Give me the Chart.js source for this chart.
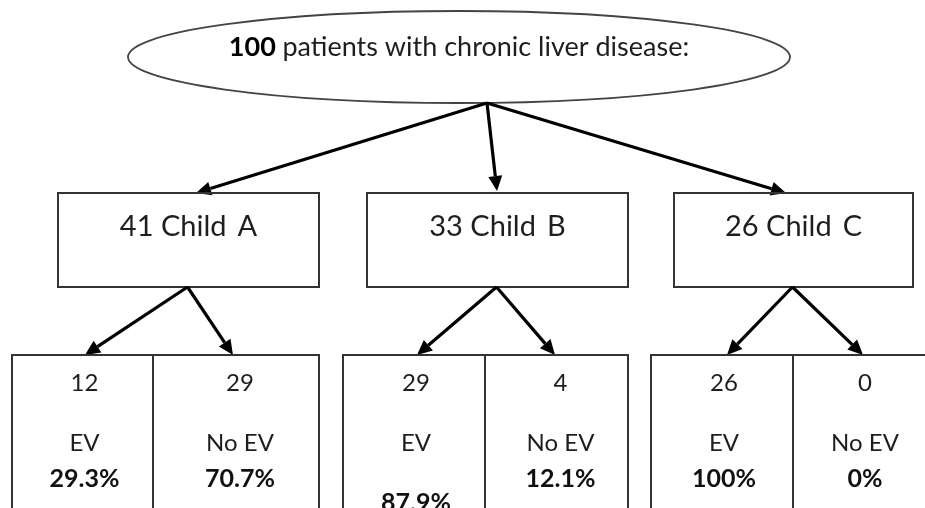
<!DOCTYPE html>
<html>
<head>
<meta charset="utf-8">
<script src="https://cdn.jsdelivr.net/npm/chart.js@4.4.0/dist/chart.umd.min.js"></script>
<style>
  html, body { margin: 0; padding: 0; background: #fff; }
  canvas { display: block; }
</style>
</head>
<body>
<canvas id="tree" width="925" height="508"></canvas>
<script>
// Datos del diagrama
const totalPatients = 100;
const rootText = 'patients with chronic liver disease:';
const childClasses = ['Child A', 'Child B', 'Child C'];
const childCounts = [41, 33, 26];
const evCounts = [12, 29, 26];
const noEvCounts = [29, 4, 0];
const evPercents = ['29.3%', '87.9%', '100%'];
const noEvPercents = ['70.7%', '12.1%', '0%'];
const outcomeLabels = ['EV', 'No EV'];

// Posiciones (en coordenadas de la imagen 925x508)
const rootShape = { cx: 459, cy: 57, rx: 331, ry: 46, textY: 47 };
const rootArrowFrom = [487, 103];
const midBoxes = [[58, 319], [367, 628], [674, 913]];
const midTop = 193, midBottom = 287, midTextY = 227;
const midArrowTips = [[196, 193], [497, 191], [786, 193]];
const lowBoxes = [[12, 153, 319], [343, 485, 628], [651, 793, 940]];
const lowTop = 355, lowBottom = 540;
const lowArrowTips = [[[85, 355], [233, 355]], [[417, 355], [555, 355]], [[727, 355], [863, 355]]];
const rowY = { count: 383, label: 443, pct: 479 };
const pctShift = [[0, 0], [24, 0], [0, 0]];

const fontFamily = 'Lato, "Open Sans", sans-serif';
const textColor = '#1e1e1e';

function arrow(ctx, x0, y0, x1, y1) {
    const a = Math.atan2(y1 - y0, x1 - x0);
    const len = 15, half = 7;
    const bx = x1 - len * Math.cos(a), by = y1 - len * Math.sin(a);
    ctx.strokeStyle = '#000';
    ctx.lineWidth = 3.2;
    ctx.beginPath();
    ctx.moveTo(x0, y0);
    ctx.lineTo(bx, by);
    ctx.stroke();
    ctx.fillStyle = '#000';
    ctx.beginPath();
    ctx.moveTo(x1, y1);
    ctx.lineTo(bx + half * Math.sin(a), by - half * Math.cos(a));
    ctx.lineTo(bx - half * Math.sin(a), by + half * Math.cos(a));
    ctx.closePath();
    ctx.fill();
}

const treePlugin = {
    id: 'tree',
    afterDraw(chart) {
        const ctx = chart.ctx;
        const sx = v => chart.scales.x.getPixelForValue(v);
        const sy = v => chart.scales.y.getPixelForValue(v);
        ctx.save();

        // Elipse principal
        ctx.strokeStyle = '#444';
        ctx.lineWidth = 1.8;
        ctx.beginPath();
        ctx.ellipse(sx(rootShape.cx), sy(rootShape.cy), rootShape.rx, rootShape.ry, 0, 0, Math.PI * 2);
        ctx.stroke();

        ctx.textBaseline = 'middle';
        ctx.textAlign = 'left';
        const boldPart = String(totalPatients);
        ctx.font = 'bold 27px ' + fontFamily;
        const wb = ctx.measureText(boldPart + ' ').width;
        ctx.font = '27px ' + fontFamily;
        const wr = ctx.measureText(rootText).width;
        let x = sx(rootShape.cx) - (wb + wr) / 2;
        ctx.fillStyle = '#000';
        ctx.font = 'bold 27px ' + fontFamily;
        ctx.fillText(boldPart, x, sy(rootShape.textY));
        ctx.fillStyle = textColor;
        ctx.font = '27px ' + fontFamily;
        ctx.fillText(rootText, x + wb, sy(rootShape.textY));

        // Flechas hacia Child A/B/C
        midArrowTips.forEach(t => arrow(ctx, sx(rootArrowFrom[0]), sy(rootArrowFrom[1]), sx(t[0]), sy(t[1])));

        // Cajas Child
        ctx.lineWidth = 2;
        ctx.strokeStyle = '#333';
        ctx.textAlign = 'center';
        midBoxes.forEach((b, i) => {
            ctx.strokeRect(sx(b[0]), sy(midTop), sx(b[1]) - sx(b[0]), sy(midBottom) - sy(midTop));
            ctx.fillStyle = textColor;
            ctx.font = '29px ' + fontFamily;
            ctx.fillText(childCounts[i] + ' ' + childClasses[i].replace(' ', '\u2009 '), sx((b[0] + b[1]) / 2), sy(midTextY));
        });

        // Flechas hacia EV / No EV
        midBoxes.forEach((b, i) => {
            const ox = sx((b[0] + b[1]) / 2) - 1, oy = sy(midBottom);
            lowArrowTips[i].forEach(t => arrow(ctx, ox, oy, sx(t[0]), sy(t[1])));
        });

        // Cajas inferiores
        lowBoxes.forEach((b, i) => {
            ctx.strokeStyle = '#333';
            ctx.lineWidth = 2;
            ctx.strokeRect(sx(b[0]), sy(lowTop), sx(b[2]) - sx(b[0]), sy(lowBottom) - sy(lowTop));
            ctx.beginPath();
            ctx.moveTo(sx(b[1]), sy(lowTop));
            ctx.lineTo(sx(b[1]), sy(lowBottom));
            ctx.stroke();
            const cells = [
                [(b[0] + b[1]) / 2 + 2, evCounts[i], outcomeLabels[0], evPercents[i], pctShift[i][0]],
                [(b[1] + b[2]) / 2 + 4, noEvCounts[i], outcomeLabels[1], noEvPercents[i], pctShift[i][1]]
            ];
            if (i === 2) cells[1][0] = 865;
            cells.forEach(c => {
                ctx.fillStyle = textColor;
                ctx.font = '24px ' + fontFamily;
                ctx.fillText(String(c[1]), sx(c[0]), sy(rowY.count));
                ctx.fillText(c[2], sx(c[0]), sy(rowY.label));
                ctx.fillStyle = '#111';
                ctx.font = 'bold 25px ' + fontFamily;
                ctx.fillText(c[3], sx(c[0]), sy(rowY.pct + c[4]));
            });
        });

        ctx.restore();
    }
};

new Chart(document.getElementById('tree').getContext('2d'), {
    type: 'scatter',
    data: {
        datasets: [{
            data: childCounts.map((v, i) => ({ x: (midBoxes[i][0] + midBoxes[i][1]) / 2, y: midTop })),
            pointRadius: 0
        }]
    },
    options: {
        responsive: false,
        animation: false,
        layout: { padding: 0 },
        scales: {
            x: { type: 'linear', min: 0, max: 925, display: false },
            y: { type: 'linear', min: 0, max: 508, reverse: true, display: false }
        },
        plugins: { legend: { display: false }, tooltip: { enabled: false } }
    },
    plugins: [treePlugin]
});
</script>
</body>
</html>
